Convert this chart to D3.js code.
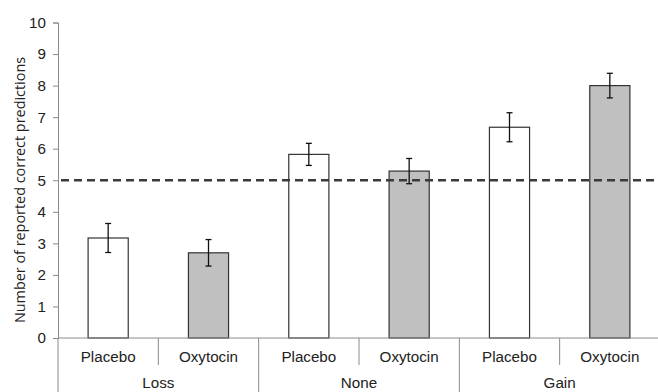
<!DOCTYPE html>
<html><head><meta charset="utf-8">
<script src="https://cdn.jsdelivr.net/npm/d3@7"></script>
<style>body{margin:0;background:#fff}svg{display:block}text{font-family:"Liberation Sans",Arial,sans-serif;fill:#222}</style>
</head><body><svg id="c" width="658" height="392"></svg>
<script>
const groups = ["Loss","None","Gain"];
const conditions = ["Placebo","Oxytocin"];
const means = [3.17, 2.70, 5.82, 5.29, 6.68, 8.00];
const errors = [0.46, 0.42, 0.35, 0.40, 0.46, 0.39];
const yTicks = [0,1,2,3,4,5,6,7,8,9,10];
const chance = 5;
const yTitle = "Number of reported correct predictions";

(function(){
const svg = d3.select("#c");
const mLeft = 58, mRight = 660, mTop = 22.5, mBottom = 338;
const cats = [];
groups.forEach(g => conditions.forEach(c => cats.push(g + "|" + c)));
const data = cats.map((k,i) => ({key:k, group:k.split("|")[0], cond:k.split("|")[1], mean:means[i], err:errors[i]}));

const x = d3.scaleBand().domain(cats).range([mLeft, mRight]).paddingInner(0.6).paddingOuter(0.3);
const y = d3.scaleLinear().domain([0,10]).range([mBottom, mTop]);
const axisColor = "#8a8a8a";
const fs = 15.2;

// y axis
const ya = svg.append("g").attr("transform", `translate(${mLeft},0)`)
  .call(d3.axisLeft(y).tickValues(yTicks).tickSize(5).tickPadding(7).tickFormat(d3.format("d")));
ya.select(".domain").attr("stroke", axisColor);
ya.selectAll(".tick line").attr("stroke", axisColor);
ya.selectAll(".tick text").attr("font-size", fs).attr("fill","#222").style("font-family","Liberation Sans, Arial, sans-serif");

svg.append("text").attr("transform", `translate(20,${190}) rotate(-90)`)
  .attr("text-anchor","middle").attr("dy","0.35em").attr("font-size", 14.4)
  .style("font-family","'Open Sans', 'Noto Sans', sans-serif").text(yTitle);

// bars
svg.append("g").selectAll("rect").data(data).join("rect")
  .attr("x", d => x(d.key)).attr("width", x.bandwidth())
  .attr("y", d => y(d.mean)).attr("height", d => y(0) - y(d.mean))
  .attr("fill", d => d.cond === "Placebo" ? "#ffffff" : "#c0c0c0")
  .attr("stroke", "#333").attr("stroke-width", 1.2);

// chance line
svg.append("line").attr("x1", mLeft + 3).attr("x2", mRight).attr("y1", y(chance)).attr("y2", y(chance))
  .attr("stroke", "#3a3a3a").attr("stroke-width", 2.5).attr("stroke-dasharray", "8,5");

// error bars
const eb = svg.append("g").attr("stroke", "#111").attr("stroke-width", 1.3);
data.forEach(d => {
  const cx = x(d.key) + x.bandwidth()/2;
  eb.append("line").attr("x1", cx).attr("x2", cx).attr("y1", y(d.mean + d.err)).attr("y2", y(d.mean - d.err));
  eb.append("line").attr("x1", cx-3).attr("x2", cx+3).attr("y1", y(d.mean + d.err)).attr("y2", y(d.mean + d.err));
  eb.append("line").attr("x1", cx-3).attr("x2", cx+3).attr("y1", y(d.mean - d.err)).attr("y2", y(d.mean - d.err));
});

// x axis baseline
svg.append("line").attr("x1", mLeft).attr("x2", mRight).attr("y1", y(0)).attr("y2", y(0)).attr("stroke", axisColor);

// separators
const step = x.step();
cats.forEach((k,i) => {
  if (i === cats.length - 1) return;
  const bx = x(k) + x.bandwidth()/2 + step/2;
  const long = (i % 2) === 1;
  svg.append("line").attr("x1", bx).attr("x2", bx).attr("y1", y(0)).attr("y2", long ? 392 : y(0) + 27).attr("stroke", axisColor);
});
svg.append("line").attr("x1", mLeft).attr("x2", mLeft).attr("y1", y(0)).attr("y2", 392).attr("stroke", axisColor);

// labels
svg.append("g").selectAll("text").data(data).join("text")
  .attr("x", d => x(d.key) + x.bandwidth()/2).attr("y", y(0) + 19).attr("dy","0.35em")
  .attr("text-anchor","middle").attr("font-size", fs).text(d => d.cond);
groups.forEach(g => {
  const k1 = g + "|" + conditions[0], k2 = g + "|" + conditions[1];
  const cx = (x(k1) + x(k2) + x.bandwidth())/2;
  svg.append("text").attr("x", cx).attr("y", y(0) + 45).attr("dy","0.35em")
    .attr("text-anchor","middle").attr("font-size", fs).text(g);
});
})();
</script></body></html>
